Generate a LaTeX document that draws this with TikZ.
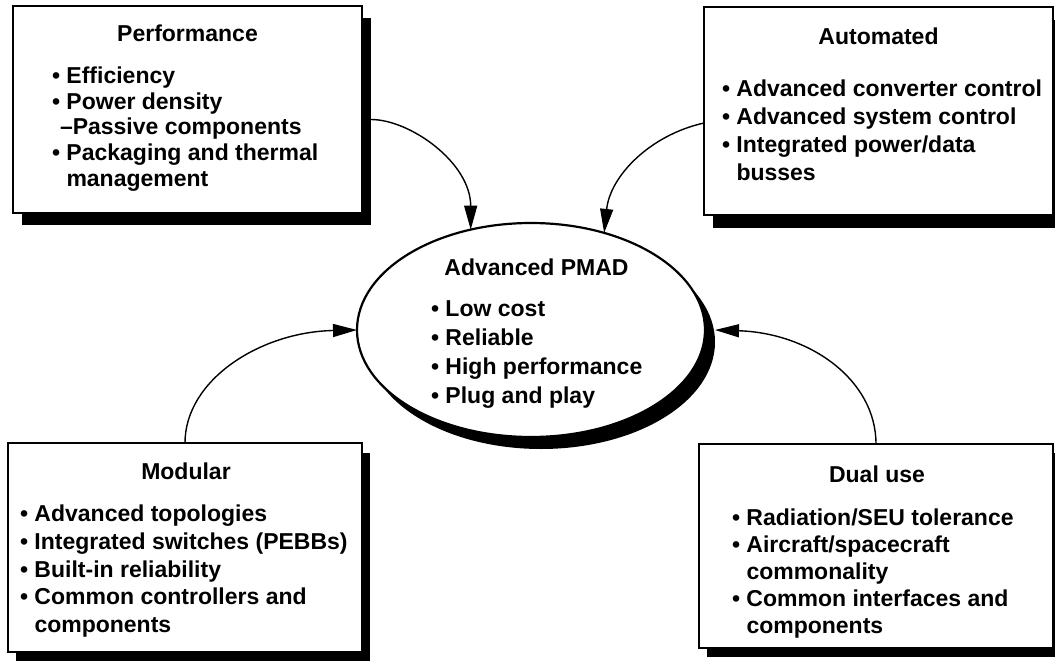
\documentclass[tikz,border=0pt]{standalone}
\usepackage{fontspec}
\setmainfont{Liberation Sans}
\usetikzlibrary{shapes.geometric,shadows,arrows.meta}
\newcommand\bi{\makebox[14.5pt][l]{•}}
\newcommand\ci{\hspace*{14.5pt}}
\newcommand\mylist[2]{\parbox[t]{340pt}{\fontsize{23pt}{#1}\selectfont\bfseries\raggedright #2}}
\tikzset{
  shad/.style 2 args={drop shadow={shadow xshift=#1, shadow yshift=#2, fill=black, opacity=1}},
  box/.style={draw, line width=2pt, fill=white, inner sep=0pt, outer sep=0pt, rectangle},
  ell/.style={draw, ellipse, line width=2.2pt, fill=white, inner sep=0pt, outer sep=0pt},
  ttl/.style={inner sep=0pt, outer sep=0pt, anchor=base, font=\fontsize{23pt}{27pt}\selectfont\bfseries},
  lst/.style={inner sep=0pt, outer sep=0pt, anchor=base west},
  conn/.style={line width=1.4pt, -{Triangle[length=24pt,width=13pt]}},
}
\begin{document}
\begin{tikzpicture}[x=1pt,y=-1pt]
\useasboundingbox (0,0) rectangle (1055,661);
\clip (0,0) rectangle (1055,661);
% boxes
\node[box, shad={9pt}{-12pt}, minimum width=349pt, minimum height=207pt] (perf) at (187.5,109.5) {};
\node[box, shad={9pt}{-13pt}, minimum width=349pt, minimum height=208pt] (aut) at (878.5,111) {};
\node[box, shad={8pt}{-10pt}, minimum width=354pt, minimum height=209pt] (mod) at (185,547.5) {};
\node[box, shad={8pt}{-9pt}, minimum width=354pt, minimum height=204pt] (dual) at (876,546) {};
\node[ell, shad={10pt}{-12pt}, minimum width=348pt, minimum height=214pt] (pmad) at (531,330) {};
% titles
\node[ttl] (tperf) at (187.5,41.7) {Performance};
\node[ttl] (taut) at (878.5,45) {Automated};
\node[ttl] (tpmad) at (536.5,275) {Advanced PMAD};
\node[ttl] (tmod) at (186,479) {Modular};
\node[ttl] (tdual) at (877,482.7) {Dual use};
% lists
\node[lst] (lperf) at (52,83.3) {\mylist{25.8pt}{\bi Efficiency\\
\bi Power density\\
\hspace*{8pt}–Passive components\\
\bi Packaging and thermal\\
\ci management}};
\node[lst] (laut) at (722,96.7) {\mylist{28pt}{\bi Advanced converter control\\
\bi Advanced system control\\
\bi Integrated power/data\\
\ci busses}};
\node[lst] (lpmad) at (431,316.7) {\mylist{29pt}{\bi Low cost\\
\bi Reliable\\
\bi High performance\\
\bi Plug and play}};
\node[lst] (lmod) at (20,521.7) {\mylist{27.7pt}{\bi Advanced topologies\\
\bi Integrated switches (PEBBs)\\
\bi Built-in reliability\\
\bi Common controllers and\\
\ci components}};
\node[lst] (ldual) at (732,525) {\mylist{27.1pt}{\bi Radiation/SEU tolerance\\
\bi Aircraft/spacecraft\\
\ci commonality\\
\bi Common interfaces and\\
\ci components}};
% connectors
\draw[conn] ([xshift=9pt,yshift=-10pt]perf.east) .. controls +(39,0) and +(0,-67) .. (pmad.121.5);
\draw[conn] ([yshift=-12pt]aut.west) .. controls +(-54,12) and +(6,-57) .. (pmad.53.8);
\draw[conn] (mod.north) .. controls +(0,-63) and +(-97,2) .. (pmad.west);
\draw[conn] (dual.north) .. controls +(0,-64) and +(95,3) .. ([xshift=10pt]pmad.east);
\end{tikzpicture}
\end{document}
